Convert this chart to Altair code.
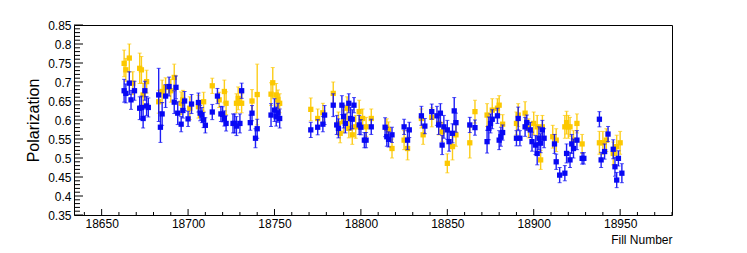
import altair as alt
import pandas as pd

# ---------------- data ----------------
yellow_fill = [18663, 18664, 18666, 18668, 18672, 18673, 18674, 18676, 18683, 18685,
               18687, 18690, 18692, 18696, 18697, 18701, 18706, 18709, 18714, 18718,
               18721, 18722, 18728, 18729, 18731, 18737, 18740, 18748, 18749, 18751,
               18752, 18753, 18771, 18775, 18778, 18784, 18787, 18788, 18790, 18792,
               18793, 18795, 18797, 18799, 18801, 18803, 18806, 18815, 18816, 18818,
               18825, 18827, 18835, 18836, 18841, 18845, 18847, 18850, 18853, 18855,
               18863, 18866, 18873, 18876, 18879, 18880, 18882, 18890, 18891, 18895,
               18897, 18900, 18902, 18904, 18905, 18911, 18913, 18918, 18919, 18920,
               18921, 18923, 18925, 18928, 18938, 18940, 18942, 18946, 18948, 18950]
yellow_pol = [0.749, 0.732, 0.763, 0.697, 0.736, 0.732, 0.666, 0.701, 0.648, 0.675,
              0.686, 0.677, 0.712, 0.644, 0.653, 0.631, 0.635, 0.648, 0.690, 0.653,
              0.675, 0.644, 0.644, 0.657, 0.644, 0.650, 0.667, 0.668, 0.698, 0.666,
              0.654, 0.644, 0.628, 0.604, 0.619, 0.670, 0.591, 0.565, 0.596, 0.631,
              0.578, 0.561, 0.582, 0.622, 0.604, 0.582, 0.604, 0.578, 0.575, 0.525,
              0.547, 0.525, 0.604, 0.561, 0.607, 0.591, 0.569, 0.486, 0.530, 0.561,
              0.540, 0.622, 0.613, 0.626, 0.631, 0.639, 0.589, 0.591, 0.613, 0.618,
              0.578, 0.591, 0.582, 0.495, 0.582, 0.556, 0.547, 0.582, 0.593, 0.582,
              0.582, 0.547, 0.591, 0.537, 0.540, 0.540, 0.547, 0.512, 0.530, 0.540]
yellow_err = [0.035, 0.030, 0.037, 0.030, 0.040, 0.035, 0.030, 0.030, 0.030, 0.030,
              0.025, 0.030, 0.035, 0.030, 0.025, 0.030, 0.030, 0.025, 0.020, 0.020,
              0.030, 0.030, 0.025, 0.030, 0.025, 0.030, 0.080, 0.030, 0.040, 0.030,
              0.025, 0.025, 0.030, 0.025, 0.025, 0.030, 0.030, 0.025, 0.030, 0.030,
              0.025, 0.025, 0.030, 0.030, 0.025, 0.025, 0.025, 0.025, 0.020, 0.025,
              0.025, 0.030, 0.025, 0.025, 0.025, 0.030, 0.025, 0.025, 0.035, 0.030,
              0.040, 0.030, 0.030, 0.030, 0.025, 0.025, 0.025, 0.030, 0.030, 0.030,
              0.025, 0.030, 0.030, 0.025, 0.030, 0.030, 0.030, 0.030, 0.030, 0.030,
              0.025, 0.025, 0.025, 0.025, 0.030, 0.030, 0.030, 0.030, 0.030, 0.030]

blue_fill = [18663, 18664, 18666, 18667, 18669, 18672, 18673, 18674, 18675, 18676,
             18677, 18683, 18684, 18685, 18687, 18689, 18692, 18693, 18694, 18696,
             18697, 18698, 18700, 18702, 18706, 18707, 18708, 18709, 18710, 18714,
             18717, 18719, 18720, 18721, 18722, 18726, 18727, 18728, 18730, 18731,
             18736, 18737, 18739, 18740, 18748, 18750, 18751, 18752, 18753, 18771,
             18775, 18778, 18779, 18784, 18786, 18787, 18789, 18790, 18791, 18793,
             18794, 18795, 18796, 18799, 18800, 18802, 18803, 18806, 18814, 18815,
             18816, 18818, 18825, 18827, 18828, 18835, 18837, 18841, 18844, 18845,
             18846, 18847, 18848, 18850, 18851, 18853, 18854, 18855, 18863, 18866,
             18873, 18874, 18875, 18876, 18879, 18880, 18881, 18882, 18890, 18891,
             18892, 18895, 18896, 18898, 18899, 18901, 18902, 18903, 18904, 18905,
             18906, 18912, 18913, 18915, 18918, 18919, 18921, 18922, 18923, 18925,
             18928, 18929, 18938, 18939, 18941, 18943, 18946, 18947, 18948, 18949,
             18951]
blue_pol = [0.677, 0.670, 0.697, 0.653, 0.677, 0.631, 0.633, 0.604, 0.677, 0.637,
            0.633, 0.666, 0.581, 0.616, 0.663, 0.688, 0.647, 0.686, 0.618, 0.589,
            0.625, 0.650, 0.603, 0.642, 0.646, 0.618, 0.613, 0.600, 0.586, 0.621,
            0.663, 0.616, 0.615, 0.604, 0.591, 0.591, 0.591, 0.584, 0.591, 0.677,
            0.593, 0.618, 0.552, 0.577, 0.613, 0.626, 0.609, 0.619, 0.604, 0.574,
            0.581, 0.589, 0.613, 0.639, 0.587, 0.578, 0.639, 0.609, 0.591, 0.644,
            0.604, 0.602, 0.639, 0.587, 0.581, 0.547, 0.547, 0.582, 0.581, 0.556,
            0.549, 0.561, 0.582, 0.547, 0.574, 0.611, 0.584, 0.622, 0.611, 0.587,
            0.618, 0.534, 0.582, 0.574, 0.543, 0.565, 0.624, 0.593, 0.587, 0.580,
            0.543, 0.578, 0.591, 0.602, 0.611, 0.547, 0.556, 0.567, 0.552, 0.604,
            0.552, 0.582, 0.593, 0.574, 0.543, 0.534, 0.512, 0.552, 0.539, 0.574,
            0.552, 0.537, 0.490, 0.455, 0.460, 0.512, 0.495, 0.537, 0.525, 0.547,
            0.499, 0.499, 0.602, 0.495, 0.517, 0.563, 0.523, 0.477, 0.442, 0.499,
            0.460]
blue_err = [0.030, 0.025, 0.030, 0.025, 0.025, 0.030, 0.030, 0.025, 0.025, 0.025,
            0.025, 0.070, 0.040, 0.030, 0.030, 0.025, 0.030, 0.030, 0.030, 0.020,
            0.020, 0.025, 0.020, 0.025, 0.025, 0.020, 0.020, 0.020, 0.020, 0.020,
            0.020, 0.020, 0.020, 0.020, 0.020, 0.025, 0.025, 0.025, 0.025, 0.020,
            0.020, 0.020, 0.025, 0.025, 0.030, 0.030, 0.025, 0.025, 0.025, 0.020,
            0.020, 0.020, 0.025, 0.030, 0.025, 0.025, 0.025, 0.030, 0.025, 0.025,
            0.030, 0.025, 0.020, 0.025, 0.020, 0.020, 0.020, 0.020, 0.025, 0.025,
            0.020, 0.020, 0.020, 0.025, 0.020, 0.025, 0.020, 0.020, 0.025, 0.025,
            0.025, 0.025, 0.030, 0.025, 0.025, 0.025, 0.035, 0.025, 0.020, 0.020,
            0.030, 0.030, 0.025, 0.025, 0.020, 0.025, 0.025, 0.020, 0.020, 0.030,
            0.020, 0.025, 0.020, 0.020, 0.025, 0.025, 0.030, 0.030, 0.025, 0.025,
            0.025, 0.025, 0.020, 0.020, 0.020, 0.025, 0.020, 0.025, 0.025, 0.025,
            0.015, 0.015, 0.020, 0.020, 0.020, 0.020, 0.025, 0.025, 0.020, 0.020,
            0.025]

x_major = [18650, 18700, 18750, 18800, 18850, 18900, 18950]
x_minor = [v for v in range(18640, 18981, 10) if v % 50 != 0]
y_major = [0.35, 0.40, 0.45, 0.50, 0.55, 0.60, 0.65, 0.70, 0.75, 0.80, 0.85]
y_minor = [round(0.35 + 0.01 * i, 2) for i in range(51) if i % 5 != 0]

YELLOW = "#fcc800"
BLUE = "#0808f4"
FONT = "Liberation Sans"

xs = alt.Scale(domain=[18634, 18980], nice=False, zero=False)
ys = alt.Scale(domain=[0.35, 0.85], nice=False, zero=False)

XAX = alt.Axis(values=x_major, format="d", ticks=False, domain=False, grid=False,
               labelFont=FONT, labelFontSize=12, labelColor="#000", labelPadding=3,
               title="Fill Number", titleFont=FONT, titleFontSize=12,
               titleFontWeight="normal", titleAnchor="end", titlePadding=5,
               titleColor="#000")
YAX = alt.Axis(values=y_major, format=".2~f", ticks=False, domain=False, grid=False,
               labelFont=FONT, labelFontSize=12, labelColor="#000", labelPadding=3,
               title="Polarization", titleFont=FONT, titleFontSize=16,
               titleFontWeight="normal", titlePadding=6, titleColor="#000")


def X(field):
    return alt.X(field, scale=xs, axis=XAX, title="Fill Number")


def Y(field):
    return alt.Y(field, scale=ys, axis=YAX, title="Polarization")


def frame(f, p, e):
    return pd.DataFrame({
        "fill": f, "pol": p,
        "lo": [a - b for a, b in zip(p, e)],
        "hi": [a + b for a, b in zip(p, e)],
    })


def series(d, color):
    base = alt.Chart(d)
    bars = base.mark_rule(color=color, strokeWidth=1.4, opacity=0.9).encode(
        x=X("fill:Q"), y=Y("lo:Q"), y2="hi:Q")
    cap_lo = base.mark_tick(color=color, orient="horizontal", size=4, thickness=1).encode(
        x=X("fill:Q"), y=Y("lo:Q"))
    cap_hi = base.mark_tick(color=color, orient="horizontal", size=4, thickness=1).encode(
        x=X("fill:Q"), y=Y("hi:Q"))
    pts = base.mark_square(color=color, size=28, opacity=1).encode(
        x=X("fill:Q"), y=Y("pol:Q"))
    return bars + cap_lo + cap_hi + pts


yellow = series(frame(yellow_fill, yellow_pol, yellow_err), YELLOW)
blue = series(frame(blue_fill, blue_pol, blue_err), BLUE)

xmaj = alt.Chart(pd.DataFrame({"v": x_major})).mark_rule(color="#000", strokeWidth=1).encode(
    x=X("v:Q"), y=alt.value(190), y2=alt.value(184))
xmin = alt.Chart(pd.DataFrame({"v": x_minor})).mark_rule(color="#000", strokeWidth=1).encode(
    x=X("v:Q"), y=alt.value(190), y2=alt.value(187))
ymaj = alt.Chart(pd.DataFrame({"v": y_major})).mark_rule(color="#000", strokeWidth=1).encode(
    y=Y("v:Q"), x=alt.value(0), x2=alt.value(9))
ymin = alt.Chart(pd.DataFrame({"v": y_minor})).mark_rule(color="#000", strokeWidth=1).encode(
    y=Y("v:Q"), x=alt.value(0), x2=alt.value(6))

chart = alt.layer(yellow, blue, xmaj, xmin, ymaj, ymin).properties(
    width=598, height=190,
    background="white",
    autosize=alt.AutoSizeParams(type="none"),
    padding={"left": 66, "top": 17, "right": 50, "bottom": 30},
).configure_view(stroke="#000", strokeWidth=1)

chart.save("out.html", embed_options={"renderer": "svg", "actions": False})
